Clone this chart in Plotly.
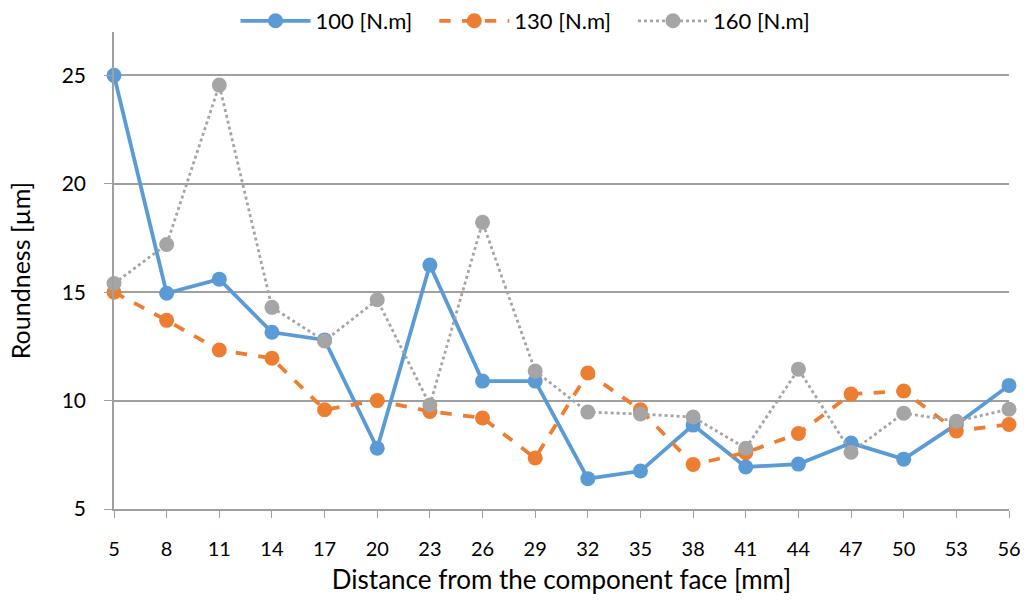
import plotly.graph_objects as go

distance = [5, 8, 11, 14, 17, 20, 23, 26, 29, 32, 35, 38, 41, 44, 47, 50, 53, 56]
torque_100 = [25.0, 14.95, 15.6, 13.15, 12.8, 7.8, 16.25, 10.9, 10.9, 6.4, 6.75, 8.87, 6.94, 7.07, 8.04, 7.3, 8.9, 10.7]
torque_130 = [15.0, 13.7, 12.33, 11.95, 9.58, 10.0, 9.5, 9.2, 7.35, 11.27, 9.58, 7.05, 7.6, 8.48, 10.3, 10.44, 8.6, 8.9]
torque_160 = [15.4, 17.2, 24.55, 14.3, 12.75, 14.65, 9.8, 18.22, 11.36, 9.47, 9.38, 9.24, 7.8, 11.45, 7.62, 9.42, 9.05, 9.6]

series = [
    ("100 [N.m]", torque_100, "#5B9BD5", "solid", 3.8),
    ("130 [N.m]", torque_130, "#ED7D31", "dash", 3.8),
    ("160 [N.m]", torque_160, "#A5A5A5", "dot", 2.8),
]

FONT = "Lato, 'Open Sans', sans-serif"

fig = go.Figure()
for name, vals, color, dash, w in series:
    fig.add_trace(go.Scatter(
        x=distance, y=vals, name=name + "   ", mode="lines+markers",
        line=dict(color=color, width=w, dash=dash),
        marker=dict(color=color, size=15),
        cliponaxis=False,
    ))

fig.update_layout(
    width=1027, height=600,
    margin=dict(l=114, r=18, t=32, b=91, autoexpand=False),
    plot_bgcolor="white", paper_bgcolor="white",
    font=dict(family=FONT, size=21, color="black"),
    showlegend=True,
    legend=dict(orientation="h", x=0.52, xanchor="center", xref="container",
                y=1.0, yanchor="top", yref="container",
                font=dict(size=22), bgcolor="rgba(0,0,0,0)", itemwidth=70,
                tracegroupgap=0),
    xaxis=dict(
        range=[5, 56], tickvals=distance, ticktext=[str(d) for d in distance],
        showgrid=False, zeroline=False,
        showline=True, linecolor="#A0A0A0", linewidth=1.5,
        ticks="outside", ticklen=7, tickcolor="#A0A0A0",
        tickfont=dict(size=20), ticklabelstandoff=14,
        title=dict(text="Distance from the component face [mm]", font=dict(size=26), standoff=12),
        automargin=False,
    ),
    yaxis=dict(
        range=[5, 27], tickvals=[5, 10, 15, 20, 25],
        showgrid=True, gridcolor="#A0A0A0", gridwidth=1.5,
        zeroline=False, showline=True, linecolor="#A0A0A0", linewidth=1.5,
        ticks="outside", ticklen=8, tickcolor="#A0A0A0",
        tickfont=dict(size=21), ticklabelstandoff=14,
        title=dict(text="Roundness [µm]", font=dict(size=25), standoff=24),
        automargin=False,
    ),
)

fig.write_html("out.html")
